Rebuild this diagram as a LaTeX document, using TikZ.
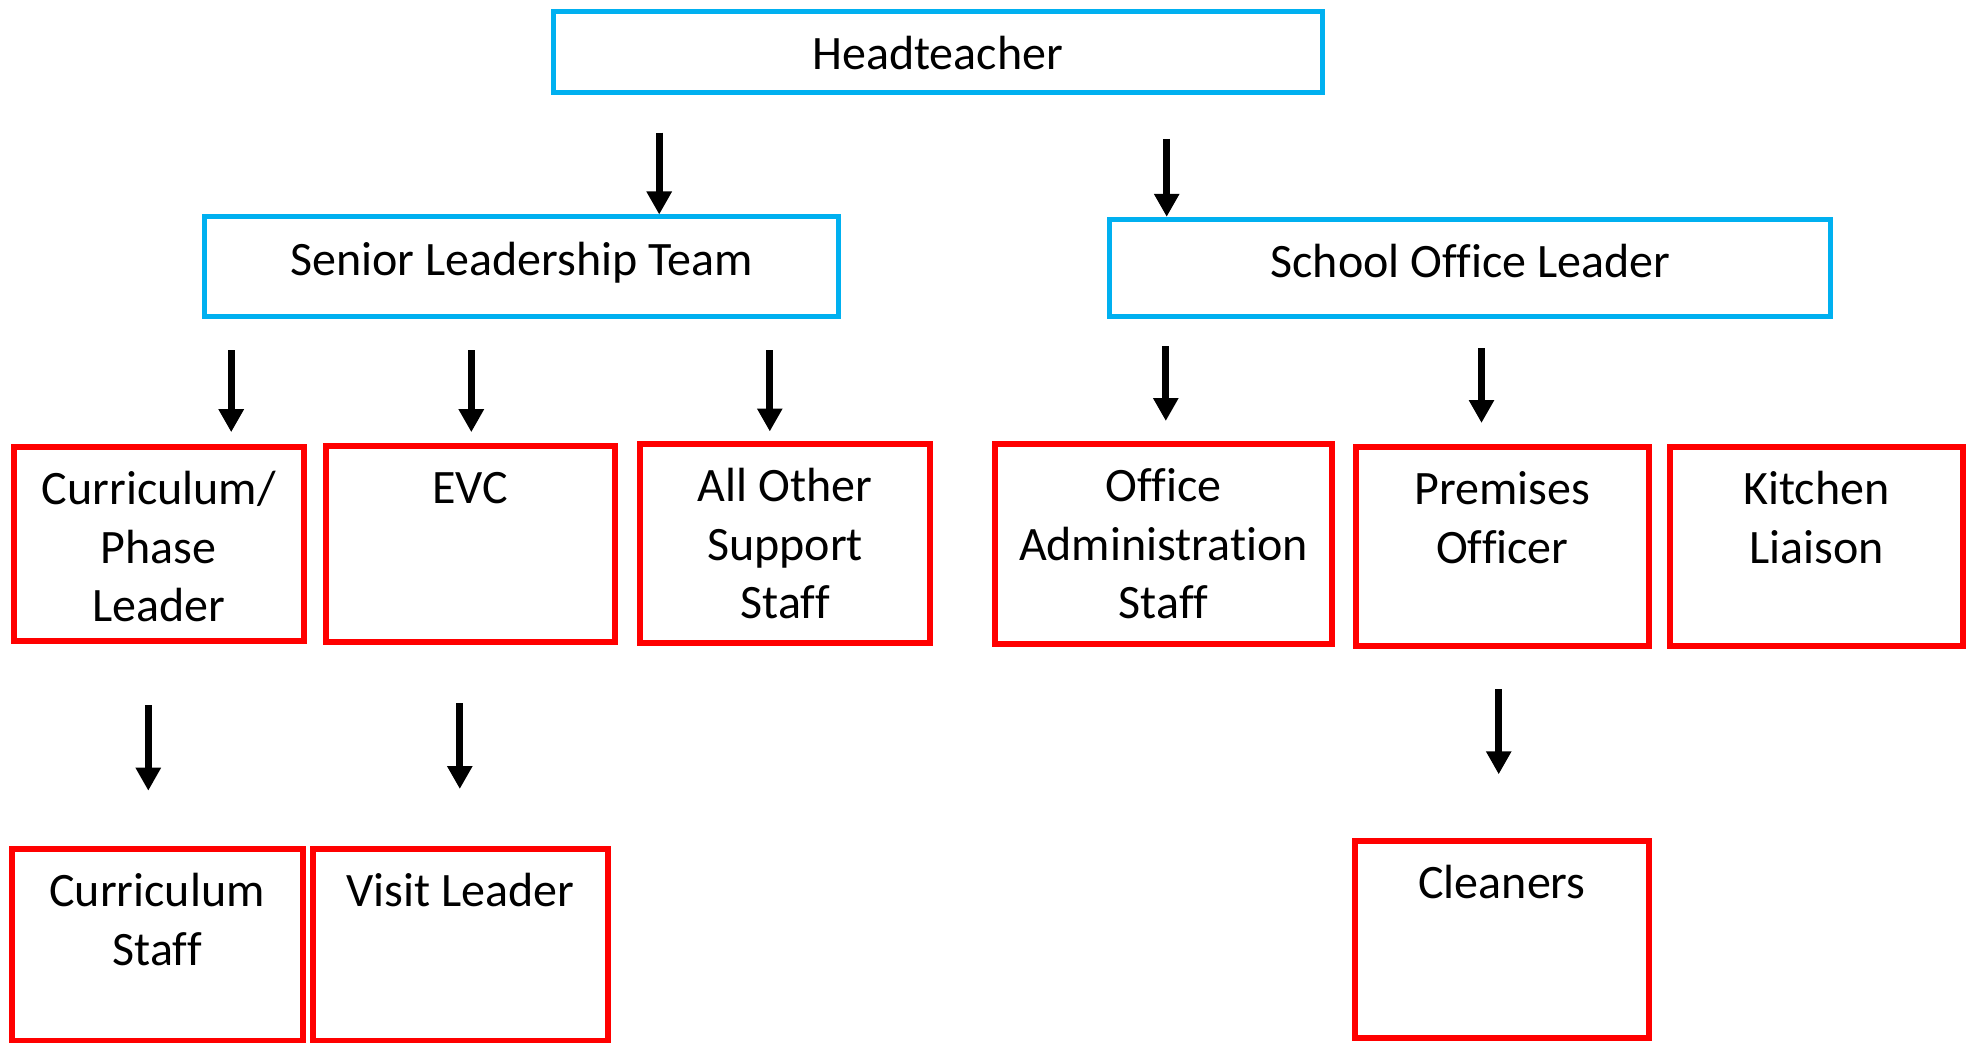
\documentclass[tikz,border=0pt]{standalone}
\usepackage{fontspec}
\setmainfont{Carlito}[Ligatures=NoCommon]
\usetikzlibrary{arrows.meta}
\definecolor{bluebox}{HTML}{00B0F0}
\definecolor{redbox}{HTML}{FF0000}
\newcommand{\mtext}[1]{\vtop{\halign{\hfil##\hfil\cr#1\crcr}}}
\tikzset{
  bbox/.style={draw=bluebox, line width=5pt, rectangle, inner sep=0pt},
  rbox/.style={draw=redbox, line width=6pt, rectangle, inner sep=0pt},
  lbl/.style={anchor=base, inner sep=0pt, font=\fontsize{48}{58.5}\selectfont},
  arr/.style={draw=black, line width=7pt, -{Triangle[width=24pt,length=23pt]}}
}
\begin{document}
\begin{tikzpicture}[x=1pt,y=1pt]
\useasboundingbox[fill=white] (0,0) rectangle (1970,-1043);
% boxes
\node[bbox, minimum width=769pt, minimum height=81.6pt] (head) at (937.5,-52.2) {};
\node[bbox, minimum width=634pt, minimum height=99pt] (slt) at (521.6,-266.5) {};
\node[bbox, minimum width=721.3pt, minimum height=96.7pt] (sol) at (1470.3,-267.7) {};
\node[rbox, minimum width=289.6pt, minimum height=194.7pt] (cpl) at (158.8,-544) {};
\node[rbox, minimum width=288.9pt, minimum height=196pt] (evc) at (470.3,-543.5) {};
\node[rbox, minimum width=289.6pt, minimum height=199.8pt] (aos) at (785.1,-543.4) {};
\node[rbox, minimum width=337.6pt, minimum height=200.9pt] (oas) at (1163.4,-544) {};
\node[rbox, minimum width=292.6pt, minimum height=199pt] (prem) at (1502.3,-546.2) {};
\node[rbox, minimum width=293pt, minimum height=199.2pt] (kit) at (1816.5,-546.1) {};
\node[rbox, minimum width=290.8pt, minimum height=192.3pt] (cs) at (157.1,-944.9) {};
\node[rbox, minimum width=294.8pt, minimum height=192.3pt] (vl) at (460.2,-944.9) {};
\node[rbox, minimum width=294pt, minimum height=197.5pt] (cln) at (1502,-939.3) {};
% labels
\node[lbl] (headt) at ([yshift=-61pt]head.north) {Headteacher};
\node[lbl] (sltt) at ([yshift=-61pt]slt.north) {Senior Leadership Team};
\node[lbl] (solt) at ([yshift=-61pt]sol.north) {School Office Leader};
\node[lbl] (cplt) at ([yshift=-61pt]cpl.north) {\mtext{Curriculum/\cr Phase\cr Leader}};
\node[lbl] (evct) at ([yshift=-61pt]evc.north) {EVC};
\node[lbl] (aost) at ([yshift=-61pt]aos.north) {\mtext{All Other\cr Support\cr Staff}};
\node[lbl] (oast) at ([yshift=-61pt]oas.north) {\mtext{Office\cr Administration\cr Staff}};
\node[lbl] (premt) at ([yshift=-61pt]prem.north) {\mtext{Premises\cr Officer}};
\node[lbl] (kitt) at ([yshift=-61pt]kit.north) {\mtext{Kitchen\cr Liaison}};
\node[lbl] (cst) at ([yshift=-61pt]cs.north) {\mtext{Curriculum\cr Staff}};
\node[lbl] (vlt) at ([yshift=-61pt]vl.north) {Visit Leader};
\node[lbl] (clnt) at ([yshift=-61pt]cln.north) {Cleaners};
% arrow ends
\coordinate (a1s) at (659.2,-132.7);
\coordinate (a2s) at (1166.7,-138.9);
\coordinate (a3s) at (231.2,-350.2);  \coordinate (a3e) at (231.2,-432.2);
\coordinate (a4s) at (471.3,-350.2);  \coordinate (a4e) at (471.3,-432.2);
\coordinate (a5s) at (769.8,-350.2);  \coordinate (a5e) at (769.8,-431.5);
\coordinate (a6s) at (1165.8,-346);   \coordinate (a6e) at (1165.8,-421);
\coordinate (a7s) at (1481.5,-348);   \coordinate (a7e) at (1481.5,-423);
\coordinate (a8s) at (148.3,-705);    \coordinate (a8e) at (148.3,-790.7);
\coordinate (a9s) at (459.8,-703);    \coordinate (a9e) at (459.8,-789);
\coordinate (a10s) at (1498.7,-689.3); \coordinate (a10e) at (1498.7,-774.3);
% arrows
\draw[arr] (a1s) -- (a1s |- slt.north);
\draw[arr] (a2s) -- (a2s |- sol.north);
\draw[arr] (a3s) -- (a3e);
\draw[arr] (a4s) -- (a4e);
\draw[arr] (a5s) -- (a5e);
\draw[arr] (a6s) -- (a6e);
\draw[arr] (a7s) -- (a7e);
\draw[arr] (a8s) -- (a8e);
\draw[arr] (a9s) -- (a9e);
\draw[arr] (a10s) -- (a10e);
\end{tikzpicture}
\end{document}
